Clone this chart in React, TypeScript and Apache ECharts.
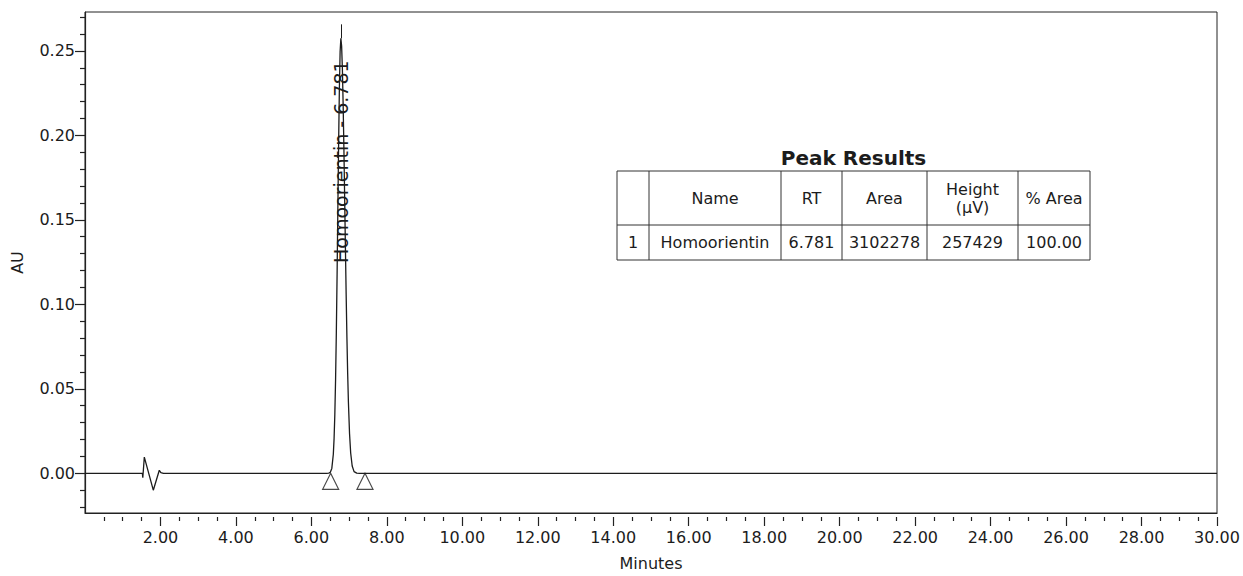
import React, { useEffect, useRef } from "react";
import * as echarts from "echarts";

// ---- data ----
const traceTimes = [
  0, 1.52, 1.532, 1.572, 1.81, 1.969, 2.01, 2.08, 6.4,
  6.461, 6.501, 6.541, 6.581, 6.601, 6.621, 6.641, 6.661, 6.681, 6.701, 6.721, 6.741, 6.761,
  6.781,
  6.801, 6.821, 6.841, 6.861, 6.881, 6.901, 6.921, 6.941, 6.961, 6.981, 7.011, 7.041, 7.081, 7.131, 7.201, 7.281,
  30,
];
const traceAU = [
  0, 0, -0.0026, 0.0096, -0.01, 0.0018, 0.0004, 0, 0,
  0.0001, 0.0006, 0.0029, 0.0113, 0.0205, 0.0348, 0.0557, 0.0836, 0.1178, 0.1561, 0.1943, 0.2272, 0.2495,
  0.2574,
  0.2528, 0.2394, 0.2186, 0.1926, 0.1636, 0.134, 0.1058, 0.0806, 0.0592, 0.042, 0.0234, 0.012, 0.0043, 0.001, 0.0001, 0,
  0,
];
const peakName = "Homoorientin";
const peakRT = 6.781;
const peakApexAU = 0.2574;
const peakLabelLineTopAU = 0.2657;
const peakLabelCenterAU = 0.1844;
const peakMarkerTimes = [6.51, 7.42];
const baselineAU = 0;

const xMajorTicks = [2, 4, 6, 8, 10, 12, 14, 16, 18, 20, 22, 24, 26, 28, 30];
const yMajorTicks = [0, 0.05, 0.1, 0.15, 0.2, 0.25];
const yMinorTicks = [
  -0.02, -0.01, 0.01, 0.02, 0.03, 0.04, 0.06, 0.07, 0.08, 0.09, 0.11, 0.12, 0.13, 0.14,
  0.16, 0.17, 0.18, 0.19, 0.21, 0.22, 0.23, 0.24, 0.26, 0.27,
];

const tableTitle = "Peak Results";
const tableHeaders = ["", "Name", "RT", "Area", "Height\n(μV)", "% Area"];
const tableRow = ["1", "Homoorientin", "6.781", "3102278", "257429", "100.00"];

// ---- layout ----
const W = 1243;
const H = 576;
const FONT = '"DejaVu Sans", "Liberation Sans", Arial, sans-serif';
const INK = "#1c1c1c";
const colEdges = [617, 649, 781, 842, 927, 1018, 1090];
const tableTop = 171;
const tableMid = 225;
const tableBottom = 260;
const X_MIN = 0;
const X_MAX = 30;
const Y_MIN = -0.0235;
const Y_MAX = 0.273;

function buildXMinor(): number[] {
  const out: number[] = [];
  for (let i = 1; i <= 60; i++) {
    const v = i * 0.5;
    if (v % 2 !== 0) out.push(v);
  }
  return out;
}

function buildTable(): any[] {
  const els: any[] = [];
  const stroke = { stroke: "#333", lineWidth: 1 };
  els.push({
    type: "rect",
    shape: { x: colEdges[0], y: tableTop, width: colEdges[colEdges.length - 1] - colEdges[0], height: tableBottom - tableTop },
    style: { fill: "none", ...stroke },
  });
  els.push({
    type: "line",
    shape: { x1: colEdges[0], y1: tableMid, x2: colEdges[colEdges.length - 1], y2: tableMid },
    style: stroke,
  });
  for (let i = 1; i < colEdges.length - 1; i++) {
    els.push({
      type: "line",
      shape: { x1: colEdges[i], y1: tableTop, x2: colEdges[i], y2: tableBottom },
      style: stroke,
    });
  }
  els.push({
    type: "text",
    x: (colEdges[0] + colEdges[colEdges.length - 1]) / 2,
    y: 158,
    style: {
      text: tableTitle,
      font: `bold 20px ${FONT}`,
      fill: INK,
      align: "center",
      verticalAlign: "middle",
    },
  });
  tableHeaders.forEach((h, i) => {
    const cx = (colEdges[i] + colEdges[i + 1]) / 2;
    els.push({
      type: "text",
      x: cx,
      y: (tableTop + tableMid) / 2,
      style: {
        text: h,
        font: `16px ${FONT}`,
        lineHeight: 18,
        fill: INK,
        align: "center",
        verticalAlign: "middle",
      },
    });
    els.push({
      type: "text",
      x: cx,
      y: (tableMid + tableBottom) / 2,
      style: {
        text: tableRow[i],
        font: `16px ${FONT}`,
        fill: INK,
        align: "center",
        verticalAlign: "middle",
      },
    });
  });
  return els;
}

const tickLine = { color: "#222", width: 1.2 };

function tickOnlyX(values: number[], length: number) {
  return {
    type: "value",
    min: X_MIN,
    max: X_MAX,
    interval: 2,
    position: "bottom",
    offset: 4,
    axisLine: { show: false, onZero: false },
    axisLabel: { show: false },
    splitLine: { show: false },
    axisTick: { show: true, length, customValues: values, lineStyle: tickLine },
  };
}

export default function App() {
  const ref = useRef<HTMLDivElement>(null);

  useEffect(() => {
    document.body.style.margin = "0";
    if (!ref.current) return;
    const chart = echarts.init(ref.current, null, { renderer: "svg" });
    const lineData = traceTimes.map((t, i) => [t, traceAU[i]]);

    chart.setOption({
      animation: false,
      backgroundColor: "#ffffff",
      grid: {
        left: 85,
        right: 26,
        top: 12,
        bottom: 59,
        show: true,
        borderColor: "#222",
        borderWidth: 1,
      },
      xAxis: [
        {
          type: "value",
          min: X_MIN,
          max: X_MAX,
          interval: 2,
          position: "bottom",
          name: "Minutes",
          nameLocation: "middle",
          nameGap: 42,
          nameTextStyle: { fontFamily: FONT, fontSize: 16, color: INK },
          axisLine: { show: true, onZero: false, lineStyle: tickLine },
          axisTick: { show: false },
          splitLine: { show: false },
          axisLabel: {
            margin: 16,
            fontFamily: FONT,
            fontSize: 16,
            color: INK,
            formatter: (v: number) => (v === 0 ? "" : v.toFixed(2)),
          },
        },
        tickOnlyX(buildXMinor(), 4),
        tickOnlyX(xMajorTicks, 9),
      ],
      yAxis: [
        {
          type: "value",
          min: Y_MIN,
          max: Y_MAX,
          position: "left",
          name: "AU",
          nameLocation: "middle",
          nameGap: 60,
          nameRotate: 90,
          nameTextStyle: { fontFamily: FONT, fontSize: 16, color: INK },
          axisLine: { show: true, onZero: false, lineStyle: tickLine },
          axisTick: { show: true, length: 10, customValues: yMajorTicks, lineStyle: tickLine },
          splitLine: { show: false },
          axisLabel: {
            margin: 10,
            customValues: yMajorTicks,
            fontFamily: FONT,
            fontSize: 16,
            color: INK,
            formatter: (v: number) => v.toFixed(2),
          },
        },
        {
          type: "value",
          min: Y_MIN,
          max: Y_MAX,
          position: "left",
          offset: 0,
          axisLine: { show: false, onZero: false },
          axisLabel: { show: false },
          splitLine: { show: false },
          axisTick: { show: true, length: 5, customValues: yMinorTicks, lineStyle: tickLine },
        },
      ],
      series: [
        {
          type: "line",
          xAxisIndex: 0,
          yAxisIndex: 0,
          data: lineData,
          showSymbol: false,
          symbol: "none",
          lineStyle: { color: INK, width: 1.3 },
          markLine: {
            silent: true,
            symbol: "none",
            label: { show: false },
            lineStyle: { color: INK, width: 1, type: "solid" },
            data: [
              [
                { coord: [peakRT, peakApexAU] },
                { coord: [peakRT, peakLabelLineTopAU] },
              ],
            ],
          },
          markPoint: {
            symbol: "circle",
            symbolSize: 0,
            data: [{ coord: [peakRT, peakLabelCenterAU] }],
            label: {
              show: true,
              position: "inside",
              rotate: 90,
              formatter: `${peakName} - ${peakRT.toFixed(3)}`,
              fontFamily: FONT,
              fontSize: 19,
              color: INK,
            },
          },
        },
        {
          type: "scatter",
          xAxisIndex: 0,
          yAxisIndex: 0,
          data: peakMarkerTimes.map((t) => [t, baselineAU]),
          symbol: "triangle",
          symbolSize: [16, 16],
          symbolOffset: [0, 8],
          itemStyle: { color: "rgba(0,0,0,0)", borderColor: INK, borderWidth: 1.2 },
        },
        { type: "line", xAxisIndex: 1, yAxisIndex: 1, data: [], silent: true },
        { type: "line", xAxisIndex: 2, yAxisIndex: 1, data: [], silent: true },
      ],
      graphic: buildTable(),
    });

    return () => {
      chart.dispose();
    };
  }, []);

  return (
    <div
      ref={ref}
      style={{ position: "absolute", left: 0, top: 0, width: W, height: H, background: "#fff" }}
    />
  );
}
